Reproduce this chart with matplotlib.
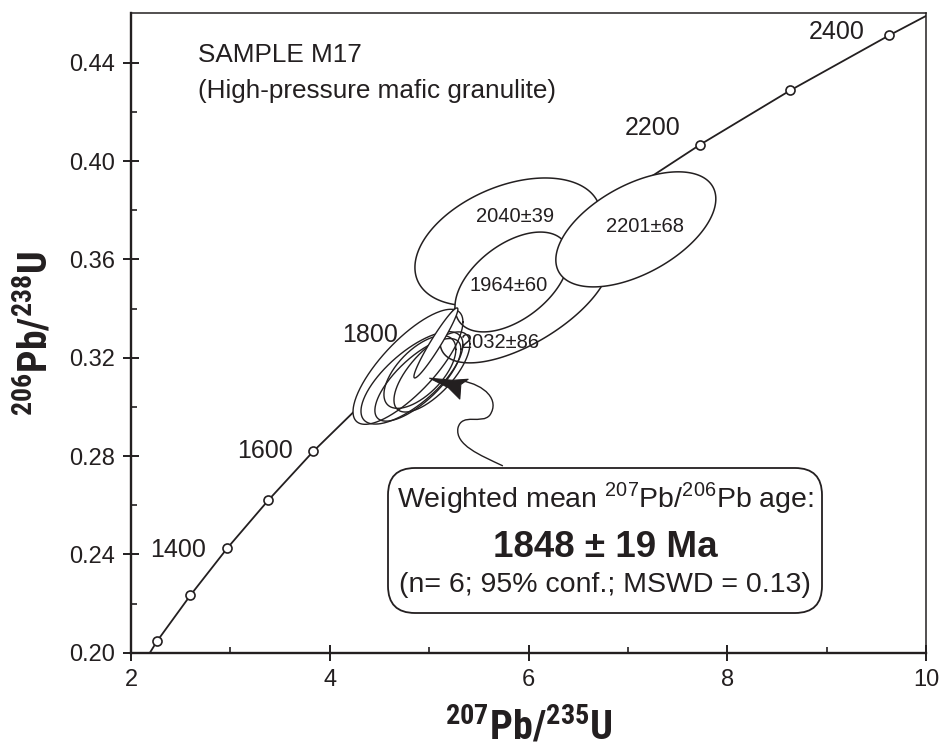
import matplotlib
matplotlib.use('Agg')
import matplotlib.pyplot as plt
import numpy as np
from matplotlib import font_manager as fm
from matplotlib.patches import FancyBboxPatch, PathPatch
from matplotlib.path import Path

# ---------------- data ----------------
conc_ages = [1200, 1300, 1400, 1500, 1600, 1700, 1800, 1900, 2000, 2100, 2200, 2300, 2400]
conc_x = [2.260, 2.598, 2.970, 3.381, 3.834, 4.335, 4.887, 5.496, 6.168, 6.911, 7.729, 8.633, 9.629]
conc_y = [0.2046, 0.2234, 0.2426, 0.2620, 0.2819, 0.3017, 0.3221, 0.3428, 0.3638, 0.3851, 0.4067, 0.4287, 0.4511]
conc_start = (2.19, 0.200)
conc_end = (10.0, 0.459)
labelled_ages = [1400, 1600, 1800, 2200, 2400]

# upper labelled ellipses: centre, half-extent in x / y, correlation
up_names = ['2032±86', '2040±39', '1964±60', '2201±68']
up_cx = [5.964, 5.793, 5.833, 7.080]
up_cy = [0.3427, 0.3671, 0.3508, 0.3722]
up_sx = [0.855, 0.936, 0.573, 0.805]
up_sy = [0.0248, 0.0260, 0.0203, 0.0234]
up_rho = [0.65, 0.40, 0.50, 0.53]

# lower unlabelled cluster
lo_cx = [4.787, 4.827, 4.887, 4.907, 5.028]
lo_cy = [0.3163, 0.3118, 0.3110, 0.3142, 0.3142]
lo_sx = [0.553, 0.513, 0.433, 0.362, 0.382]
lo_sy = [0.0234, 0.0188, 0.0168, 0.0148, 0.0163]
lo_rho = [0.78, 0.72, 0.74, 0.62, 0.70]

# thin elongated ellipse
thin = dict(cx=5.068, cy=0.3260, sx=0.221, sy=0.01424, rho=0.96)

star_xy = (5.229, 0.3089)

# ---------------- fonts ----------------
names = {f.name for f in fm.fontManager.ttflist}
narrow = next((n for n in ['Liberation Sans Narrow', 'Arial Narrow', 'DejaVu Sans Condensed',
                           'Roboto Condensed', 'Open Sans Condensed'] if n in names), 'Liberation Sans')
plt.rcParams['font.family'] = ['Liberation Sans', 'DejaVu Sans']
plt.rcParams['mathtext.fontset'] = 'custom'
plt.rcParams['mathtext.rm'] = 'Liberation Sans'
plt.rcParams['mathtext.bf'] = narrow + ':bold'

INK = '#231f20'

fig = plt.figure(figsize=(9.42, 7.54), dpi=100)
ax = fig.add_axes([0.1391, 0.1343, 0.8439, 0.8478])
ax.set_xlim(2, 10)
ax.set_ylim(0.20, 0.46)


def ell(cx, cy, sx, sy, rho, n=300):
    t = np.linspace(0, 2 * np.pi, n)
    x = cx + sx * np.cos(t)
    y = cy + sy * (rho * np.cos(t) + np.sqrt(1 - rho ** 2) * np.sin(t))
    return x, y

# concordia
cx_all = [conc_start[0]] + conc_x + [conc_end[0]]
cy_all = [conc_start[1]] + conc_y + [conc_end[1]]
ax.plot(cx_all, cy_all, color=INK, lw=1.3, zorder=1, clip_on=True)
ax.plot(conc_x, conc_y, ls='none', marker='o', ms=6.5, mfc='white', mec=INK, mew=1.2, zorder=1.5)

lab_off = {1400: (-21, -9), 1600: (-20, -7), 1800: (-20, 11), 2200: (-20, 10), 2400: (-24, -4)}
for a in labelled_ages:
    i = conc_ages.index(a)
    dx, dy = lab_off[a]
    ax.annotate(str(a), (conc_x[i], conc_y[i]), xytext=(dx * 0.72, dy * 0.72),
                textcoords='offset points', ha='right', va='baseline', fontsize=18, color=INK, zorder=12)

# lower cluster fills
for i in range(len(lo_cx)):
    x, y = ell(lo_cx[i], lo_cy[i], lo_sx[i], lo_sy[i], lo_rho[i])
    ax.fill(x, y, facecolor='white', edgecolor='none', zorder=2)

# upper ellipses, each fill + outline
for i in range(len(up_cx)):
    x, y = ell(up_cx[i], up_cy[i], up_sx[i], up_sy[i], up_rho[i])
    ax.fill(x, y, facecolor='white', edgecolor=INK, lw=1.1, zorder=3 + i)

# lower cluster outlines
for i in range(len(lo_cx)):
    x, y = ell(lo_cx[i], lo_cy[i], lo_sx[i], lo_sy[i], lo_rho[i])
    ax.plot(x, y, color=INK, lw=1.0, zorder=8)

x, y = ell(**thin)
ax.fill(x, y, facecolor='white', edgecolor=INK, lw=1.0, zorder=9)

# ellipse labels
lab_x = [5.712, 5.863, 5.803, 7.171]
lab_y = [0.3260, 0.3773, 0.3492, 0.3732]
for nm, lx, ly in zip(up_names, lab_x, lab_y):
    ax.text(lx, ly, nm, ha='center', va='center', fontsize=14.5, color=INK, zorder=12)

# star
star_path = Path([(-22, 7), (0, 5), (15, 6), (8, 1), (7, -13), (-4, -2), (-22, 7)],
                 [Path.MOVETO] + [Path.LINETO] * 5 + [Path.CLOSEPOLY])
ax.plot(*star_xy, marker=star_path, ms=33, color=INK, mec=INK, mew=0.8, ls='none', zorder=11)

# leader squiggle
lead_v = [(5.330, 0.3106), (5.561, 0.3089), (5.712, 0.3028), (5.612, 0.2967),
          (5.531, 0.2926), (5.330, 0.2979), (5.290, 0.2914),
          (5.260, 0.2845), (5.511, 0.2804), (5.742, 0.2760)]
lead_c = [Path.MOVETO] + [Path.CURVE4] * 9
ax.add_patch(PathPatch(Path(lead_v, lead_c), facecolor='none', edgecolor=INK, lw=1.0, zorder=10))

# result box (in inches, for isotropic rounded corners)
box = FancyBboxPatch((3.88, 1.41), 4.34, 1.45, boxstyle='round,pad=0,rounding_size=0.27',
                     transform=fig.dpi_scale_trans, facecolor='white', edgecolor=INK, lw=1.3, zorder=13)
fig.patches.append(box)
box.set_figure(fig)
fig.text(6.05 / 9.42, 1 - 5.07 / 7.54, r'Weighted mean $^{207}$Pb/$^{206}$Pb age:', ha='center',
         va='baseline', fontsize=20.5, color=INK, zorder=14)
fig.text(6.05 / 9.42, 1 - 5.57 / 7.54, '1848 ± 19 Ma', ha='center', va='baseline', fontsize=26.5,
         fontweight='bold', color=INK, zorder=14)
fig.text(6.05 / 9.42, 1 - 5.92 / 7.54, '(n= 6; 95% conf.; MSWD = 0.13)', ha='center', va='baseline',
         fontsize=20.5, color=INK, zorder=14)

# sample text
ax.text(0.0843, 0.924, 'SAMPLE M17', transform=ax.transAxes,
        ha='left', va='baseline', fontsize=18.8, color=INK, zorder=12)
ax.text(0.0843, 0.8676, '(High-pressure mafic granulite)', transform=ax.transAxes,
        ha='left', va='baseline', fontsize=18.8, color=INK, zorder=12)

# axes styling
ax.set_xticks([2, 4, 6, 8, 10])
ax.set_xticks([3, 5, 7, 9], minor=True)
ax.set_yticks([0.20, 0.24, 0.28, 0.32, 0.36, 0.40, 0.44])
ax.set_yticks([0.22, 0.26, 0.30, 0.34, 0.38, 0.42], minor=True)
ax.set_yticklabels(['%.2f' % v for v in ax.get_yticks()])
ax.set_xticklabels(['%d' % v for v in ax.get_xticks()])
ax.tick_params(which='major', direction='inout', length=11, width=1.4, labelsize=17,
               colors=INK, pad=6)
ax.tick_params(which='minor', direction='in', length=4.5, width=1.2, colors=INK)
for s in ['left', 'bottom']:
    ax.spines[s].set_linewidth(1.7)
for s in ['top', 'right']:
    ax.spines[s].set_linewidth(1.1)
for s in ax.spines.values():
    s.set_color(INK)

ax.set_xlabel(r'$\mathbf{^{207}Pb/^{235}U}$', fontsize=29, color=INK, labelpad=11)
ax.set_ylabel(r'$\mathbf{^{206}Pb/^{238}U}$', fontsize=28.5, color=INK, labelpad=10)

fig.savefig('out.png', dpi=100)
